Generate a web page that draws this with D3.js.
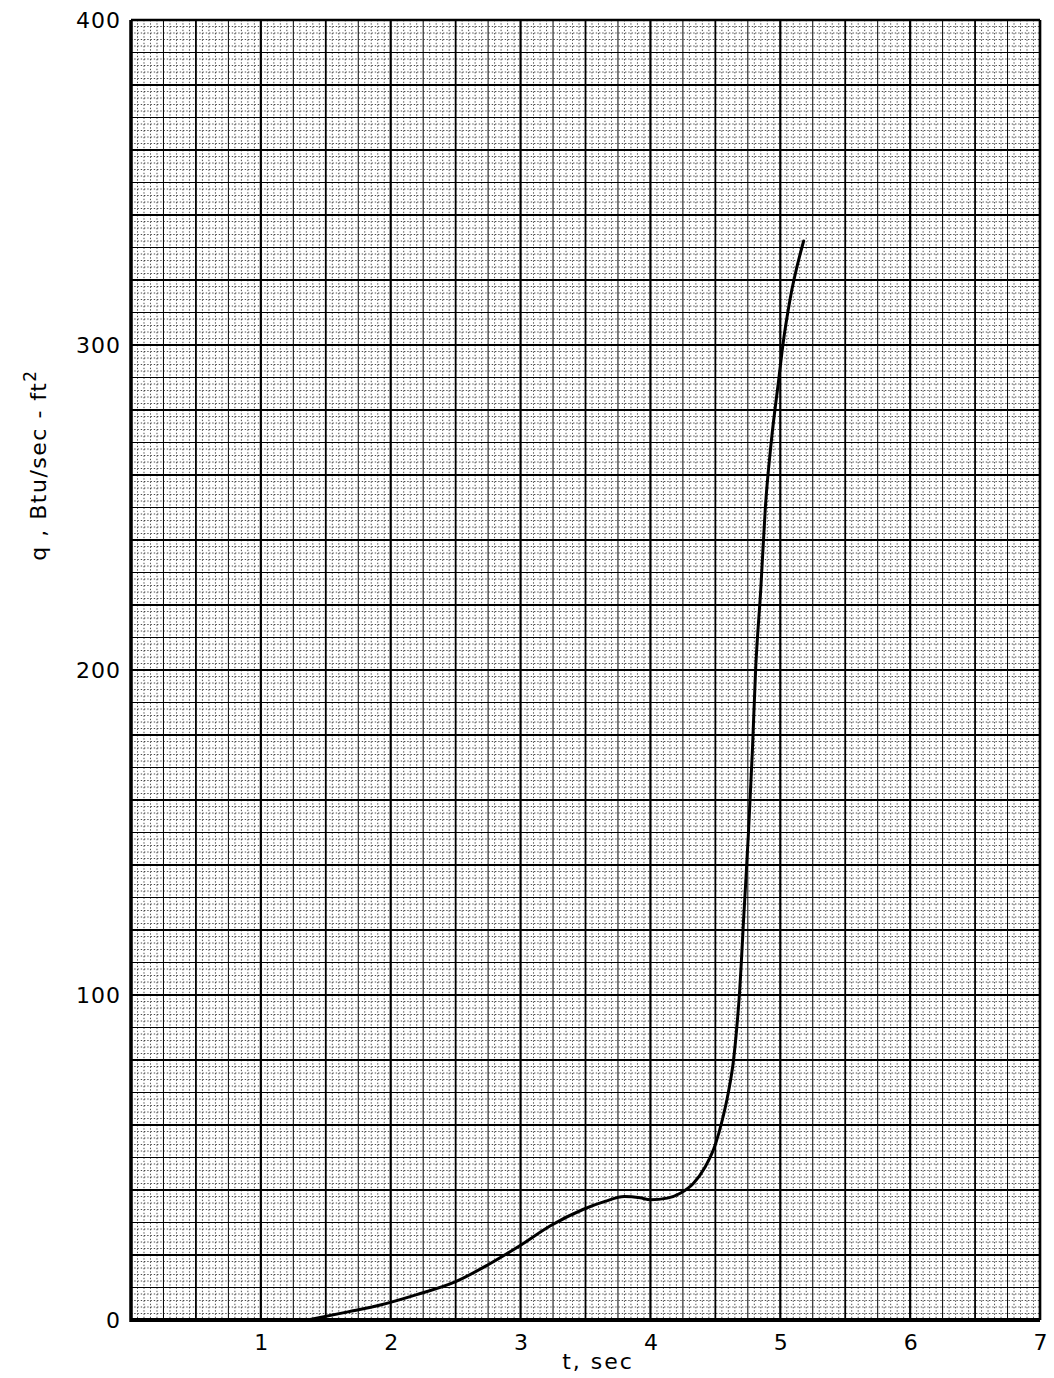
<!DOCTYPE html>
<html>
<head>
<meta charset="utf-8">
<script src="https://cdn.jsdelivr.net/npm/d3@7"></script>
<style>
  body { margin: 0; background: #fff; }
  text { font-family: "DejaVu Sans", sans-serif; fill: #000; }
</style>
</head>
<body>
<div id="chart"></div>
<script>
// values: time (sec) and heating rate q (Btu/sec-ft^2)
const tValues = [1.36, 1.67, 1.92, 2.2, 2.5, 2.75, 3.0, 3.23, 3.48, 3.65, 3.8, 3.92, 4.0, 4.13, 4.23, 4.33,
                 4.42, 4.5, 4.55, 4.6, 4.64, 4.665, 4.685, 4.72, 4.755, 4.785, 4.81, 4.85, 4.885, 4.93, 4.99, 5.02, 5.075, 5.18];
const qValues = [0, 2.5, 4.6, 7.8, 11.8, 17, 23, 29, 34, 36.5, 38, 37.6, 37, 37.5, 39, 42,
                 47, 54, 61, 70, 80, 90, 100, 125, 150, 175, 200, 225, 250, 270, 290, 300, 314, 332];
const xTickLabels = [1, 2, 3, 4, 5, 6, 7];
const yTickLabels = [0, 100, 200, 300, 400];

const width = 1054, height = 1378;

const svg = d3.select("#chart")
  .append("svg")
    .attr("width", width)
    .attr("height", height);

const x = d3.scaleLinear().domain([0, 7]).range([131, 1040]);
const y = d3.scaleLinear().domain([0, 400]).range([1320, 20]);

// graph paper grid: fine every 0.05 s / 2 units, medium every 0.25 s / 10, heavy every 0.5 s / 20
const grid = svg.append("g");

const vLines = d3.range(0, 141).map(i => ({i, v: i * 0.05}));
const hLines = d3.range(0, 201).map(i => ({i, v: i * 2}));

function lineStyle(sel, major, mid, minor) {
  sel.attr("stroke", d => (d.i % minor === 0) ? "#000" : "#222")
     .attr("stroke-width", d => d.i % major === 0 ? 2.2 : d.i % mid === 0 ? 1.8 : d.i % minor === 0 ? 1 : 0.8)
     .attr("stroke-dasharray", d => (d.i % minor === 0) ? null : "1.4,1.85");
}

grid.selectAll("line.v")
  .data(vLines)
  .join("line")
    .attr("class", "v")
    .attr("x1", d => x(d.v)).attr("x2", d => x(d.v))
    .attr("y1", y(400)).attr("y2", y(0))
    .call(lineStyle, 20, 10, 5);

grid.selectAll("line.h")
  .data(hLines)
  .join("line")
    .attr("class", "h")
    .attr("y1", d => y(d.v)).attr("y2", d => y(d.v))
    .attr("x1", x(0)).attr("x2", x(7))
    .call(lineStyle, 20, 10, 5);

// frame
svg.append("line").attr("x1", x(0)).attr("x2", x(7)).attr("y1", y(0)).attr("y2", y(0))
  .attr("stroke", "#000").attr("stroke-width", 4);
svg.append("line").attr("x1", x(0)).attr("x2", x(0)).attr("y1", y(0) + 2).attr("y2", y(400))
  .attr("stroke", "#000").attr("stroke-width", 3.5);
svg.append("line").attr("x1", x(0)).attr("x2", x(7)).attr("y1", y(400)).attr("y2", y(400))
  .attr("stroke", "#000").attr("stroke-width", 2.5);
svg.append("line").attr("x1", x(7)).attr("x2", x(7)).attr("y1", y(0)).attr("y2", y(400))
  .attr("stroke", "#000").attr("stroke-width", 2.5);

// axes (labels only)
const xAxis = svg.append("g")
  .attr("transform", `translate(0,${y(0)})`)
  .call(d3.axisBottom(x).tickValues(xTickLabels).tickSize(0).tickPadding(14).tickFormat(d3.format("d")));
xAxis.select(".domain").remove();
xAxis.selectAll("text").style("font-size", "22px").style("font-family", "DejaVu Sans, sans-serif");

const yAxis = svg.append("g")
  .attr("transform", `translate(${x(0)},0)`)
  .call(d3.axisLeft(y).tickValues(yTickLabels).tickSize(0).tickPadding(10).tickFormat(d3.format("d")));
yAxis.select(".domain").remove();
yAxis.selectAll("text").style("font-size", "22px").style("font-family", "DejaVu Sans, sans-serif")
  .attr("letter-spacing", "1px");

// axis titles
svg.append("text")
  .attr("x", 598).attr("y", 1369)
  .attr("text-anchor", "middle")
  .style("font-size", "22px")
  .attr("letter-spacing", "2px")
  .text("t, sec");

const yTitle = svg.append("text")
  .attr("transform", "translate(46,465) rotate(-90)")
  .attr("text-anchor", "middle")
  .style("font-size", "22px")
  .attr("letter-spacing", "1.5px");
yTitle.append("tspan").text("q , Btu/sec - ft");
yTitle.append("tspan").attr("dy", -10).style("font-size", "17px").text("2");

// the curve
const points = tValues.map((t, i) => [t, qValues[i]]);
svg.append("path")
  .datum(points)
  .attr("fill", "none")
  .attr("stroke", "#000")
  .attr("stroke-width", 3)
  .attr("stroke-linecap", "round")
  .attr("d", d3.line()
    .x(d => x(d[0]))
    .y(d => y(d[1]))
    .curve(d3.curveMonotoneX));
</script>
</body>
</html>
